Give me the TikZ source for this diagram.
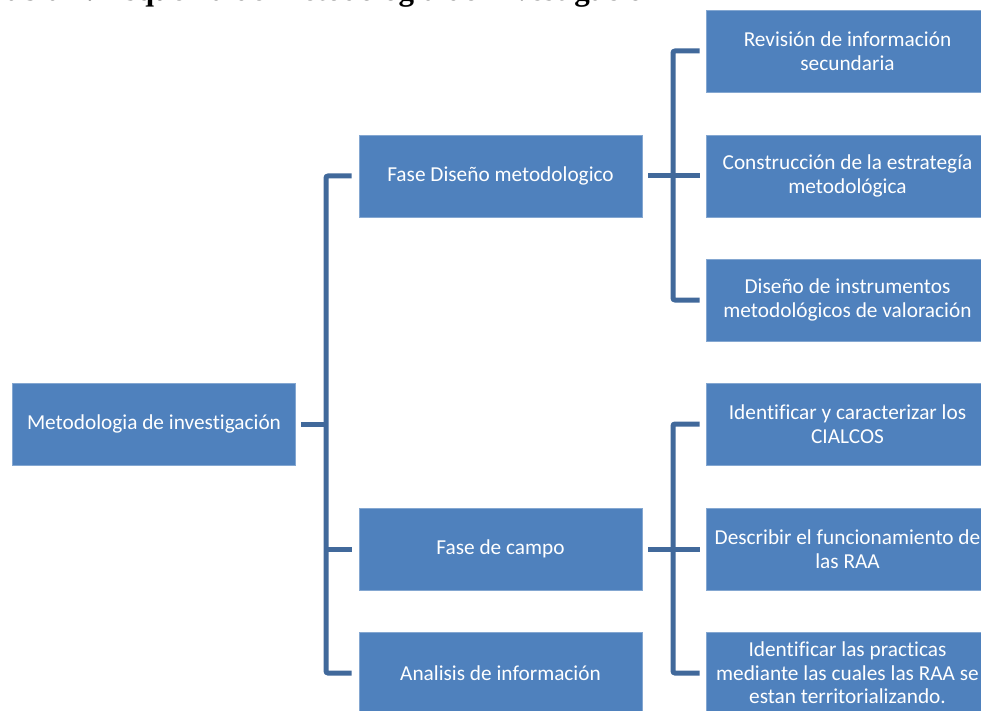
\documentclass[tikz,border=0pt]{standalone}
\usepackage{fontspec}
\setmainfont{Liberation Serif}
\newfontfamily\boxfont[Ligatures=NoCommon]{Carlito}

\begin{document}
\begin{tikzpicture}[x=1pt,y=-1pt]
\definecolor{BOX}{HTML}{4F81BD}
\definecolor{LNK}{HTML}{41699B}
\tikzset{
	box/.style={fill=BOX, draw=BOX!70!white, line width=0.6pt, minimum width=283pt, minimum height=82pt, inner sep=0pt, text=white, align=center, font=\boxfont\fontsize{21.3}{23.5}\selectfont},
	link/.style={draw=LNK, line width=5pt, rounded corners=2pt}
}
\useasboundingbox (0,0) rectangle (981,711);
\clip (0,0) rectangle (981,711);

% title, cut off at the top edge
\node[anchor=base west, inner sep=0pt, font=\fontsize{31}{31}\selectfont\bfseries] (title) at (-12,1) {Tabla 1. Esquema de Metodología de Investigación};

% root and phases
\node[box] (root) at (154,424) {Metodologia de investigación};
\foreach \n/\y/\t in {diseno/176/Fase Diseño metodologico,campo/549/Fase de campo,analisis/673/Analisis de información}{
	\node[box] (\n) at (500.5,\y) {\t};
}

% tasks of each phase
\foreach \n/\y/\t in {c1/51/{Revisión de información\\secundaria},c2/176/{Construcción de la estrategía\\metodológica},c3/300/{Diseño de instrumentos\\metodológicos de valoración},c4/424/{Identificar y caracterizar los\\CIALCOS},c5/549/{Describir el funcionamiento de\\las RAA},c6/673/{Identificar las practicas\\mediante las cuales las RAA se\\estan territorializando.}}{
	\node[box] (\n) at (847.5,\y) {\t};
}

\coordinate (trunkA) at (326,0);
\coordinate (trunkB) at (673,0);

% connectors
\draw[link] ([xshift=5]root.east) -- (root -| trunkA);
\draw[link] ([xshift=-7]diseno.west) -- (diseno -| trunkA) -- (analisis -| trunkA) -- ([xshift=-7]analisis.west);
\draw[link] (campo -| trunkA) -- ([xshift=-7]campo.west);

\draw[link] ([xshift=6]diseno.east) -- ([xshift=-6]c2.west);
\draw[link] ([xshift=-6]c1.west) -- (c1 -| trunkB) -- (c3 -| trunkB) -- ([xshift=-6]c3.west);
\draw[link] ([xshift=6]campo.east) -- ([xshift=-6]c5.west);
\draw[link] ([xshift=-6]c4.west) -- (c4 -| trunkB) -- (c6 -| trunkB) -- ([xshift=-6]c6.west);

\end{tikzpicture}
\end{document}
